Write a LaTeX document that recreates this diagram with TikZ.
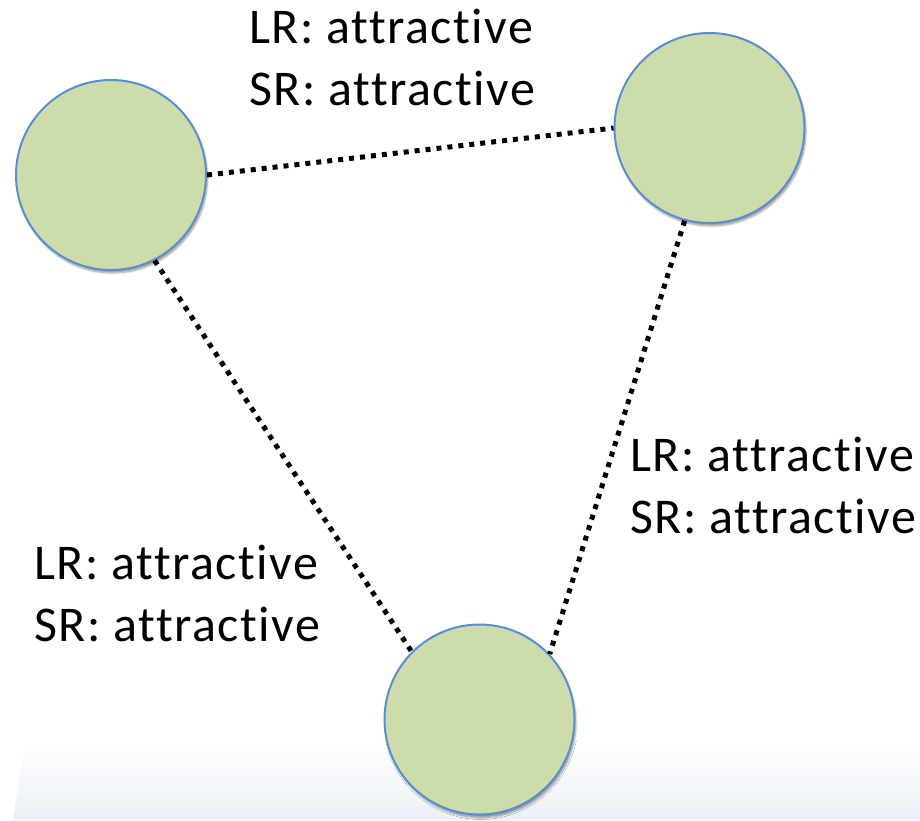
\documentclass[tikz,border=0pt]{standalone}
\usepackage{fontspec}
\setmainfont{Carlito}[Ligatures=NoCommon, LetterSpace=3]
\usetikzlibrary{shadows.blur}
\definecolor{ballfill}{HTML}{CCDCAA}
\definecolor{ballline}{HTML}{5B8ED0}
\definecolor{floorblue}{HTML}{EBF0F7}
\tikzset{
  ball/.style={circle, minimum size=190pt, inner sep=0pt, fill=ballfill, draw=ballline, line width=2pt,
    blur shadow={shadow xshift=1.5pt, shadow yshift=-3pt, shadow blur steps=6, shadow opacity=40}},
  bond/.style={line width=5pt, dash pattern=on 5pt off 6pt, line cap=butt},
  lbl/.style={anchor=base west, inner sep=0pt, align=left, font=\fontsize{50}{62}\selectfont}
}
\begin{document}
\begin{tikzpicture}[x=1pt,y=-1pt]
\useasboundingbox (0,0) rectangle (920,820);
\shade[top color=white, bottom color=floorblue] (25,740) -- (920,740) -- (920,820) -- (13,820) -- cycle;
\node[ball] (a) at (111,175) {};
\node[ball] (b) at (709.5,128) {};
\node[ball] (c) at (479.5,719.5) {};
\draw[bond] (a.east) -- (b.west);
\draw[bond] (a.-63) -- (c.135);
\draw[bond] (b.-105) -- (c.43);
\node[lbl] (t1) at (249,105) {LR: attractive\\SR: attractive};
\node[lbl] (t2) at (630,533) {LR: attractive\\SR: attractive};
\node[lbl] (t3) at (34,641) {LR: attractive\\SR: attractive};
\end{tikzpicture}
\end{document}
